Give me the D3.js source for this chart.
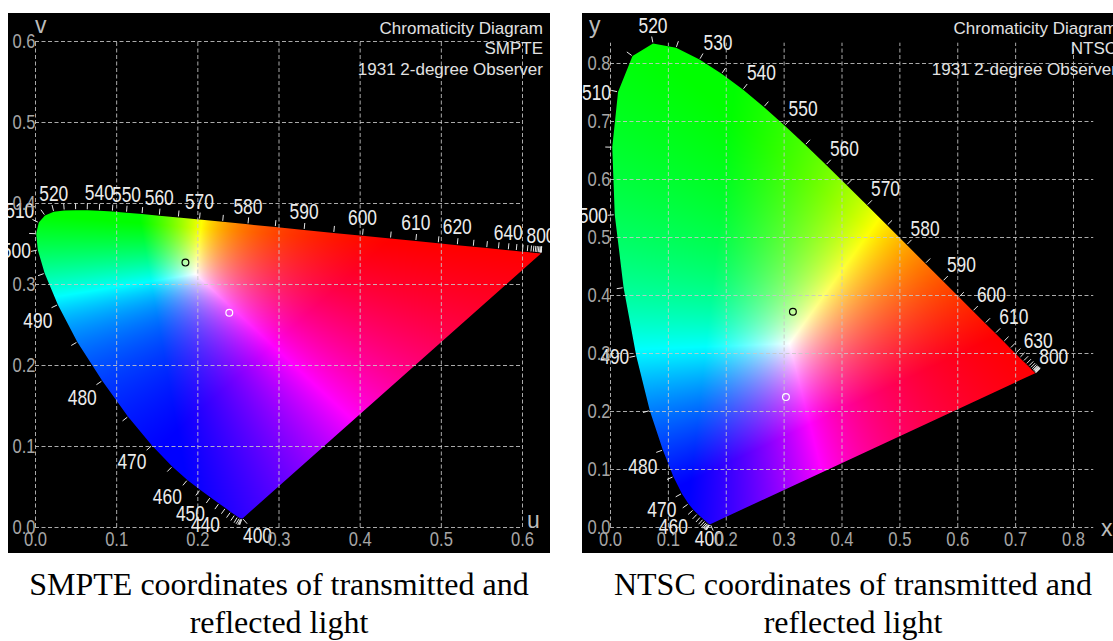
<!DOCTYPE html>
<html>
<head>
<meta charset="utf-8">
<script src="https://cdn.jsdelivr.net/npm/d3@7"></script>
<style>
  body { margin: 0; background: #ffffff; }
  svg { display: block; }
</style>
</head>
<body>
<svg id="chart" width="1113" height="641"></svg>
<script>
// ---------- DATA ----------
// CIE 1931 2-degree spectral locus (chromaticity x, y), nm
const wavelengths = [400,405,410,415,420,425,430,435,440,445,450,455,460,465,470,475,480,485,490,495,500,505,510,515,520,525,530,535,540,545,550,555,560,565,570,575,580,585,590,595,600,605,610,615,620,625,630,635,640,645,650,655,660,665,670,675,680,685,690,695,700,800];
const locusX = [0.1733,0.1730,0.1726,0.1721,0.1714,0.1703,0.1689,0.1669,0.1644,0.1611,
                0.1566,0.1510,0.1440,0.1355,0.1241,0.1096,0.0913,0.0687,0.0454,0.0235,
                0.0082,0.0039,0.0139,0.0389,0.0743,0.1142,0.1547,0.1929,0.2296,0.2658,
                0.3016,0.3373,0.3731,0.4087,0.4441,0.4788,0.5125,0.5448,0.5752,0.6029,
                0.6270,0.6482,0.6658,0.6801,0.6915,0.7006,0.7079,0.7140,0.7190,0.7230,
                0.7260,0.7283,0.7300,0.7311,0.7320,0.7327,0.7334,0.7340,0.7344,0.7346,
                0.7347,0.7347];
const locusY = [0.0048,0.0048,0.0048,0.0048,0.0051,0.0058,0.0069,0.0086,0.0109,0.0138,
                0.0177,0.0227,0.0297,0.0399,0.0578,0.0868,0.1327,0.2007,0.2950,0.4127,
                0.5384,0.6548,0.7502,0.8120,0.8338,0.8262,0.8059,0.7816,0.7543,0.7243,
                0.6923,0.6589,0.6245,0.5896,0.5547,0.5202,0.4866,0.4544,0.4242,0.3965,
                0.3725,0.3514,0.3340,0.3197,0.3083,0.2993,0.2920,0.2859,0.2809,0.2770,
                0.2740,0.2717,0.2700,0.2689,0.2680,0.2673,0.2666,0.2660,0.2656,0.2654,
                0.2653,0.2653];

// labelled wavelengths
const labelsSMPTE = [400,440,450,460,470,480,490,500,510,520,540,550,560,570,580,590,600,610,620,640,800];
const labelsNTSC  = [400,460,470,480,490,500,510,520,530,540,550,560,570,580,590,600,610,630,800];

// sample points (chromaticity x, y): transmitted (black ring), reflected (white ring)
const sampleX = [0.316, 0.304];
const sampleY = [0.371, 0.224];

// primaries R, G, B, white
const primSMPTE = [[0.630,0.340],[0.310,0.595],[0.155,0.070],[0.3127,0.3290]];
const primNTSC  = [[0.670,0.330],[0.210,0.710],[0.140,0.080],[0.3101,0.3162]];

// axis ticks
const ticksUV = [0,0.1,0.2,0.3,0.4,0.5,0.6];
const tickLabelsUV = ["0.0","0.1","0.2","0.3","0.4","0.5","0.6"];
const ticksXY = [0,0.1,0.2,0.3,0.4,0.5,0.6,0.7,0.8];
const tickLabelsXY = ["0.0","0.1","0.2","0.3","0.4","0.5","0.6","0.7","0.8"];

const titleSMPTE = ["Chromaticity Diagram","SMPTE","1931 2-degree Observer"];
const titleNTSC  = ["Chromaticity Diagram","NTSC","1931 2-degree Observer"];
const captionSMPTE = ["SMPTE coordinates of transmitted and","reflected light"];
const captionNTSC  = ["NTSC coordinates of transmitted and","reflected light"];

// ---------- helpers ----------
function inv3(m){
  const [a,b,c]=m[0],[d,e,f]=m[1],[g,h,i]=m[2];
  const A=e*i-f*h, B=-(d*i-f*g), C=d*h-e*g;
  const det=a*A+b*B+c*C;
  return [[A/det,-(b*i-c*h)/det,(b*f-c*e)/det],
          [B/det,(a*i-c*g)/det,-(a*f-c*d)/det],
          [C/det,-(a*h-b*g)/det,(a*e-b*d)/det]];
}
function mulv(m,v){ return m.map(r=>r[0]*v[0]+r[1]*v[1]+r[2]*v[2]); }
function xyzToRgbMatrix(p){
  const cols=p.slice(0,3).map(([x,y])=>[x/y,1,(1-x-y)/y]);
  const [xw,yw]=p[3]; const W=[xw/yw,1,(1-xw-yw)/yw];
  const M=[[cols[0][0],cols[1][0],cols[2][0]],[cols[0][1],cols[1][1],cols[2][1]],[cols[0][2],cols[1][2],cols[2][2]]];
  const S=mulv(inv3(M),W);
  const N=M.map(r=>r.map((v,k)=>v*S[k]));
  return inv3(N);
}
const xyToUv = (x,y)=>{const d=-2*x+12*y+3; return [4*x/d, 6*y/d];};
const uvToXy = (u,v)=>{const d=2*u-8*v+4; return [3*u/d, 2*v/d];};
const identity = (a,b)=>[a,b];

const svg = d3.select("#chart");
svg.append("rect").attr("width",1113).attr("height",641).attr("fill","#ffffff");
const defs = svg.append("defs");

function sectorOffset(n){
  let th = Math.atan2(-n[1], n[0])*180/Math.PI; if (th<0) th+=360;
  if (th>=22.5 && th<67.5)  return [18.5,-17];
  if (th>=67.5 && th<112.5) return [0,-18.5];
  if (th>=112.5 && th<157.5) return [-19,-12.5];
  if (th>=157.5 && th<196) return [-21.5,0];
  if (th>=196 && th<247.5) return [-20,16];
  if (th>=247.5 && th<300) return [-1,13.5];
  if (th>=300 && th<337.5) return [15,17];
  return [22,0];
}

function normalAt(pts,i){
  const n=pts.length, p=pts[i];
  const d=(a,b)=>Math.hypot(a[0]-b[0],a[1]-b[1]);
  let prev=null, next=null;
  for(let k=1;k<n;k++){ let j=i-k; if(j<0){ if(i===0) j+=n; else break; } if(d(pts[j],p)>=3){prev=pts[j];break;} }
  for(let j=i+1;j<n;j++){ if(d(pts[j],p)>=3){next=pts[j];break;} }
  if(!prev) prev=p; if(!next) next=p;
  const tx=next[0]-prev[0], ty=next[1]-prev[1]; const L=Math.hypot(tx,ty)||1;
  return [ty/L, -tx/L];
}

function drawPanel(o){
  const g = svg.append("g");
  const clipId = o.id+"-clip";
  defs.append("clipPath").attr("id",clipId).append("rect")
    .attr("x",o.bx).attr("y",o.by).attr("width",o.bw).attr("height",o.bh);
  g.append("rect").attr("x",o.bx).attr("y",o.by).attr("width",o.bw).attr("height",o.bh).attr("fill","#000");
  const inner = g.append("g").attr("clip-path",`url(#${clipId})`);
  const sx=o.sx, sy=o.sy;

  // locus in pixel coords
  const pts = wavelengths.map((w,i)=>{const [a,b]=o.proj(locusX[i],locusY[i]); return [sx(a), sy(b)];});

  // colour fill image
  const x0=Math.floor(d3.min(pts,p=>p[0]))-2, x1=Math.ceil(d3.max(pts,p=>p[0]))+2;
  const y0=Math.floor(d3.min(pts,p=>p[1]))-2, y1=Math.ceil(d3.max(pts,p=>p[1]))+2;
  const W=x1-x0, H=y1-y0;
  const cv=document.createElement("canvas"); cv.width=W; cv.height=H;
  const ctx=cv.getContext("2d"); const img=ctx.createImageData(W,H);
  const M=xyzToRgbMatrix(o.prim);
  for(let j=0;j<H;j++){
    for(let i=0;i<W;i++){
      const a=sx.invert(x0+i+0.5), b=sy.invert(y0+j+0.5);
      const [x,y]=o.unproj(a,b);
      const k=(j*W+i)*4;
      if(!(y>0.0005)){ img.data[k+3]=0; continue; }
      let rgb=mulv(M,[x/y,1,(1-x-y)/y]).map(c=>Math.max(0,c));
      const m=Math.max(rgb[0],rgb[1],rgb[2])||1;
      img.data[k]=Math.round(255*rgb[0]/m);
      img.data[k+1]=Math.round(255*rgb[1]/m);
      img.data[k+2]=Math.round(255*rgb[2]/m);
      img.data[k+3]=255;
    }
  }
  ctx.putImageData(img,0,0);
  const locusClip=o.id+"-locus";
  const line=d3.line().curve(d3.curveLinearClosed);
  defs.append("clipPath").attr("id",locusClip).append("path").attr("d",line(pts));
  inner.append("image").attr("x",x0).attr("y",y0).attr("width",W).attr("height",H)
    .attr("href",cv.toDataURL()).attr("clip-path",`url(#${locusClip})`);

  // grid via axes
  const gridStyle = sel => {
    sel.select(".domain").remove();
    sel.selectAll(".tick line").attr("stroke","#c8c8c8").attr("stroke-opacity",0.85)
      .attr("stroke-dasharray","4,2.5").attr("stroke-width",1);
  };
  inner.append("g").attr("transform",`translate(0,${sy(0)})`)
    .call(d3.axisBottom(sx).tickValues(o.ticks).tickFormat("").tickSize(-(sy(0)-sy(o.gridMax))).tickSizeOuter(0))
    .call(gridStyle);
  inner.append("g").attr("transform",`translate(${sx(0)},0)`)
    .call(d3.axisLeft(sy).tickValues(o.ticks).tickFormat("").tickSize(-(sx(o.gridMax)-sx(0))).tickSizeOuter(0))
    .call(gridStyle);

  // wavelength ticks
  const normals = pts.map((p,i)=>normalAt(pts,i));
  inner.append("g").selectAll("line").data(pts).join("line")
    .attr("x1",(p,i)=>p[0]+normals[i][0]*1).attr("y1",(p,i)=>p[1]+normals[i][1]*1)
    .attr("x2",(p,i)=>p[0]+normals[i][0]*7).attr("y2",(p,i)=>p[1]+normals[i][1]*7)
    .attr("stroke","#e6e6e6").attr("stroke-width",1);

  // wavelength labels
  const lab = o.labels.map(w=>{const i=wavelengths.indexOf(w); const off=sectorOffset(normals[i]); return {w, cx:pts[i][0]+off[0], cy:pts[i][1]+off[1]};});
  inner.append("g").selectAll("text").data(lab).join("text")
    .attr("transform",d=>`translate(${d.cx},${d.cy+7.8}) scale(0.79,1)`)
    .attr("text-anchor","middle").attr("font-family","Liberation Sans, Arial, sans-serif")
    .attr("font-size",22).attr("fill","#ececec").text(d=>d.w);

  // sample rings
  const samp = sampleX.map((x,i)=>{const [a,b]=o.proj(x,sampleY[i]); return {px:sx(a),py:sy(b),c:i===0?"#000":"#fff"};});
  inner.append("g").selectAll("circle").data(samp).join("circle")
    .attr("cx",d=>d.px).attr("cy",d=>d.py).attr("r",3.4)
    .attr("fill","none").attr("stroke",d=>d.c).attr("stroke-width",1.2);

  // tick labels via axes
  const labStyle = sel => {
    sel.select(".domain").remove();
    sel.selectAll(".tick line").remove();
    sel.selectAll(".tick text").attr("fill","#a6a6a6").attr("font-size",20)
      .attr("font-family","Liberation Sans, Arial, sans-serif");
  };
  inner.append("g").attr("transform",`translate(0,${sy(0)})`)
    .call(d3.axisBottom(sx).tickValues(o.ticks).tickFormat((d,i)=>o.tickLabels[i]).tickSize(0).tickPadding(5))
    .call(labStyle)
    .call(s=>s.selectAll(".tick text").attr("transform","scale(0.83,1)"));
  inner.append("g").attr("transform",`translate(${sx(0)+0.5},0)`)
    .call(d3.axisLeft(sy).tickValues(o.ticks).tickFormat((d,i)=>o.tickLabels[i]).tickSize(0).tickPadding(0))
    .call(labStyle)
    .call(s=>s.selectAll(".tick text").attr("transform","scale(0.83,1)"));

  // axis letters
  inner.append("text").attr("x",o.yLetter[0]).attr("y",o.yLetter[1]).text(o.yName)
    .attr("font-family","Liberation Sans, Arial, sans-serif").attr("font-size",23).attr("fill","#bcbcbc");
  inner.append("text").attr("x",o.xLetter[0]).attr("y",o.xLetter[1]).text(o.xName)
    .attr("font-family","Liberation Sans, Arial, sans-serif").attr("font-size",23).attr("fill","#bcbcbc");

  // titles
  inner.append("g").selectAll("text").data(o.title).join("text")
    .attr("x",o.bx+o.bw-7).attr("y",(d,i)=>[34,54,75][i]).attr("text-anchor","end")
    .attr("font-family","Liberation Sans, Arial, sans-serif").attr("font-size",17).attr("fill","#e2e2e2")
    .text(d=>d);

  // caption
  svg.append("g").selectAll("text").data(o.caption).join("text")
    .attr("x",o.bx+o.bw/2).attr("y",(d,i)=>[595,633][i]).attr("text-anchor","middle")
    .attr("font-family","Liberation Serif, Times New Roman, serif").attr("font-size",32).attr("fill","#000")
    .text(d=>d);
}

// left panel: CIE 1960 UCS (u, v)
drawPanel({
  id:"smpte", bx:8, by:13, bw:542, bh:540,
  sx:d3.scaleLinear().domain([0,0.6]).range([35,522]),
  sy:d3.scaleLinear().domain([0,0.6]).range([527,41]),
  gridMax:0.6, ticks:ticksUV, tickLabels:tickLabelsUV,
  proj:xyToUv, unproj:uvToXy, prim:primSMPTE, labels:labelsSMPTE,
  title:titleSMPTE, caption:captionSMPTE,
  yName:"v", yLetter:[35,33], xName:"u", xLetter:[527,528]
});
// right panel: CIE 1931 (x, y)
drawPanel({
  id:"ntsc", bx:582, by:13, bw:542, bh:540,
  sx:d3.scaleLinear().domain([0,0.8]).range([610,1073]),
  sy:d3.scaleLinear().domain([0,0.8]).range([527,63]),
  gridMax:0.835, ticks:ticksXY, tickLabels:tickLabelsXY,
  proj:identity, unproj:identity, prim:primNTSC, labels:labelsNTSC,
  title:titleNTSC, caption:captionNTSC,
  yName:"y", yLetter:[589,33], xName:"x", xLetter:[1101,536]
});
</script>
</body>
</html>
